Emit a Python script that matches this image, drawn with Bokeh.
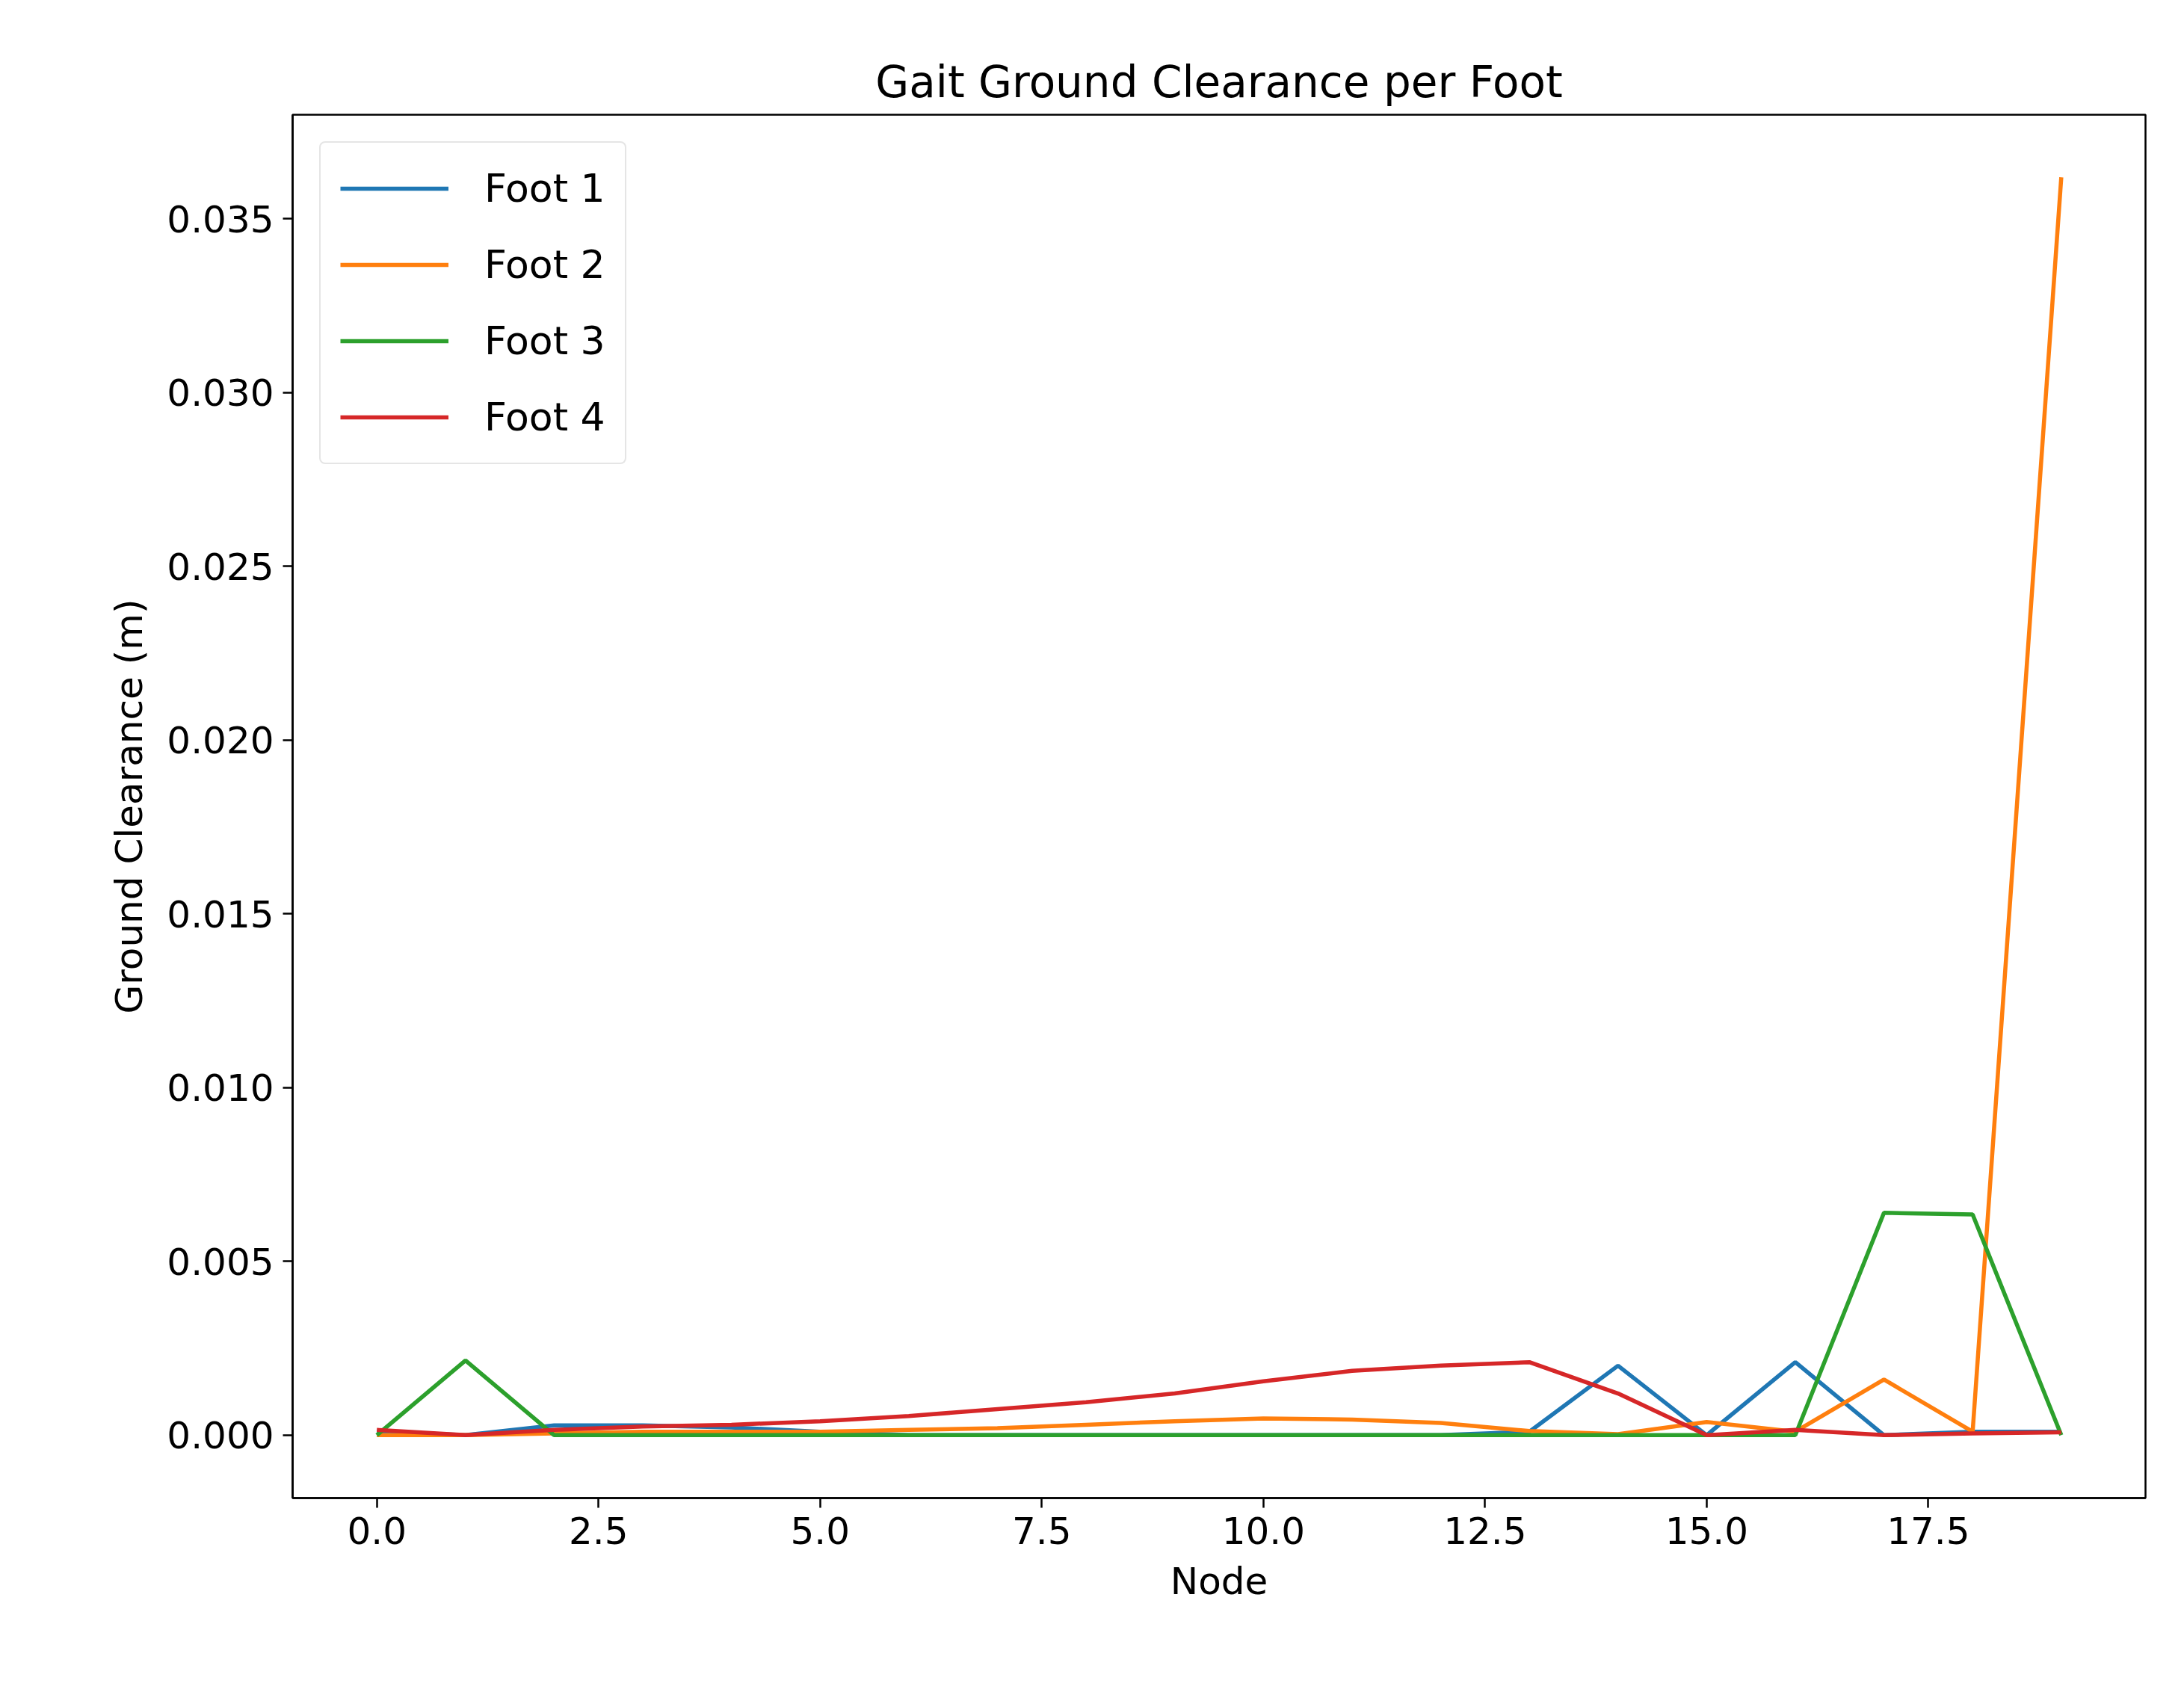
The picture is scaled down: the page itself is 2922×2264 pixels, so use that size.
from bokeh.plotting import figure
from bokeh.models import Range1d, PrintfTickFormatter, FixedTicker, Legend, LegendItem
from bokeh.embed import file_html
from bokeh.resources import INLINE

nodes = list(range(20))
foot1 = [0.0001, 0.0, 0.00028, 0.00028, 0.00022, 0.0001, 0.0, 0.0, 0.0, 0.0, 0.0, 0.0, 0.0,
         0.0001, 0.002, 0.0, 0.0021, 0.0, 0.0001, 0.0001]
foot2 = [0.0, 0.0, 0.00005, 0.0001, 0.0001, 0.0001, 0.00015, 0.0002, 0.0003, 0.0004, 0.00048,
         0.00045, 0.00035, 0.00012, 0.00003, 0.00038, 0.0001, 0.0016, 0.0001, 0.0362]
foot3 = [0.0, 0.00215, 0.0, 0.0, 0.0, 0.0, 0.0, 0.0, 0.0, 0.0, 0.0, 0.0, 0.0, 0.0, 0.0, 0.0,
         0.0, 0.0064, 0.00635, 0.0]
foot4 = [0.00015, 0.0, 0.00015, 0.00025, 0.0003, 0.0004, 0.00055, 0.00075, 0.00095, 0.0012,
         0.00155, 0.00185, 0.002, 0.0021, 0.0012, 0.0, 0.00015, 0.0, 0.00005, 0.00008]
series = [("Foot 1", foot1, "#1f77b4"), ("Foot 2", foot2, "#ff7f0e"),
          ("Foot 3", foot3, "#2ca02c"), ("Foot 4", foot4, "#d62728")]
x_ticks = [0.0, 2.5, 5.0, 7.5, 10.0, 12.5, 15.0, 17.5]
y_ticks = [0.0, 0.005, 0.01, 0.015, 0.02, 0.025, 0.03, 0.035]

FONT = "DejaVu Sans"
p = figure(frame_width=2479, frame_height=1851, output_backend="svg", toolbar_location=None,
           x_range=Range1d(-0.95, 19.95), y_range=Range1d(-0.00181, 0.0380),
           min_border_left=391, min_border_top=153, min_border_right=30, min_border_bottom=236,
           title="Gait Ground Clearance per Foot", x_axis_label="Node",
           y_axis_label="Ground Clearance (m)")
p.title.align = "center"
p.title.text_font = FONT
p.title.text_font_size = "58px"
p.title.text_font_style = "normal"
p.title.text_color = "black"
p.title.standoff = 20
p.grid.visible = False
p.outline_line_color = "black"
p.outline_line_width = 2.5

p.xaxis.ticker = FixedTicker(ticks=x_ticks)
p.yaxis.ticker = FixedTicker(ticks=y_ticks)
p.xaxis.formatter = PrintfTickFormatter(format="%.1f")
p.yaxis.formatter = PrintfTickFormatter(format="%.3f")
for ax in (p.xaxis, p.yaxis):
    ax.axis_label_text_font = FONT
    ax.axis_label_text_font_size = "50px"
    ax.axis_label_text_font_style = "normal"
    ax.axis_label_text_color = "black"
    ax.axis_label_standoff = 18
    ax.major_label_text_font = FONT
    ax.major_label_text_font_size = "50px"
    ax.major_label_text_color = "black"
    ax.major_label_standoff = 12
    ax.major_tick_out = 13
    ax.major_tick_in = 0
    ax.major_tick_line_width = 2.5
    ax.minor_tick_line_color = None
    ax.axis_line_width = 2.5

items = []
for name, ys, col in series:
    r = p.line(nodes, ys, line_color=col, line_width=5.5)
    items.append(LegendItem(label=name, renderers=[r]))

legend = Legend(items=items, location="top_left", label_text_font=FONT,
                label_text_font_size="52px", label_text_color="black",
                glyph_width=145, glyph_height=70, label_height=70,
                label_standoff=48, spacing=32, padding=26, margin=36,
                border_line_color="#cccccc", border_line_width=2.5,
                border_radius=8)
p.add_layout(legend)

open("out.html", "w").write(file_html(p, INLINE))
